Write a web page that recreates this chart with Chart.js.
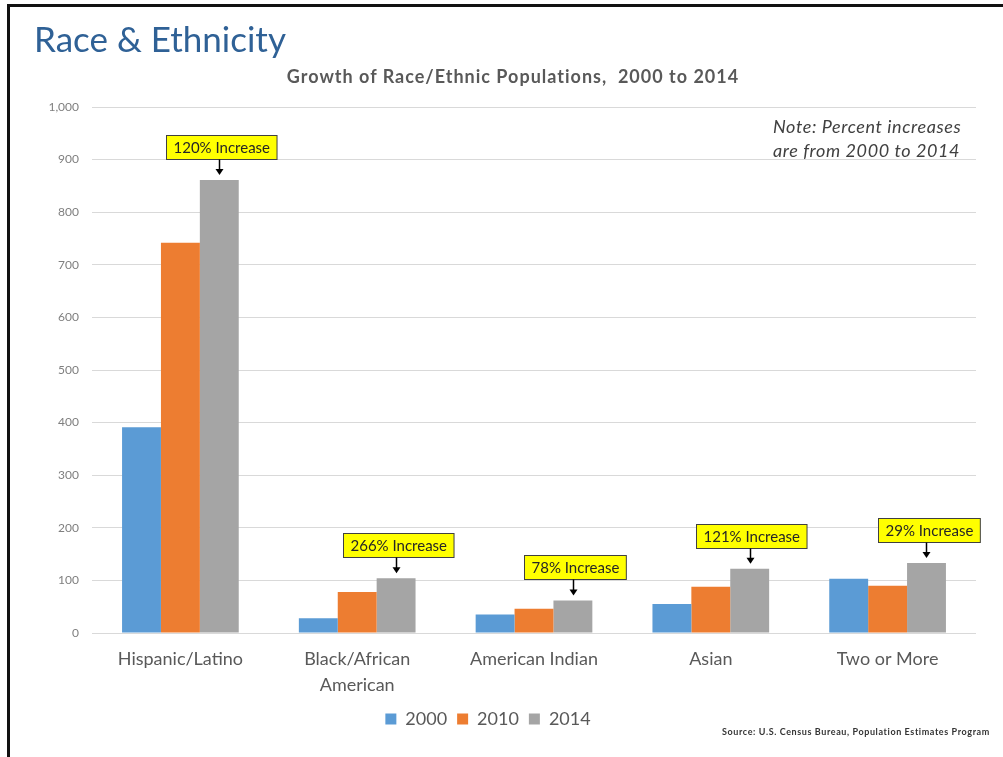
<!DOCTYPE html>
<html>
<head>
<meta charset="utf-8">
<script src="https://cdn.jsdelivr.net/npm/chart.js@4.4.1/dist/chart.umd.min.js"></script>
<style>
  html, body { margin: 0; padding: 0; background: #fff; }
  #wrap { position: relative; width: 1003px; height: 757px; overflow: hidden; font-family: Lato, "Open Sans", sans-serif; }
  #frame { position: absolute; left: 7px; top: 4px; right: 0; bottom: 0; border-top: 3px solid #111; border-left: 3px solid #111; }
  #chart { position: absolute; left: 0; top: 0; }
  .txt { position: absolute; white-space: nowrap; }
  #title { left: 34px; top: 17px; font-size: 35px; color: #2f6196; }
  #subtitle { left: 0; width: 1026px; text-align: center; top: 65px; font-size: 18px; font-weight: bold; color: #595959; letter-spacing: 1px; }
  #note { left: 773px; top: 114px; font-size: 18px; font-style: italic; color: #404040; line-height: 24px; letter-spacing: 0.6px; }
  #source { left: 722px; top: 726px; font-size: 9px; font-weight: bold; color: #333; letter-spacing: 0.6px; }
</style>
</head>
<body>
<div id="wrap">
  <canvas id="chart" width="1003" height="757"></canvas>
  <div id="frame"></div>
  <div class="txt" id="title">Race &amp; Ethnicity</div>
  <div class="txt" id="subtitle">Growth of Race/Ethnic Populations,&nbsp; 2000 to 2014</div>
  <div class="txt" id="note">Note: Percent increases<br>are from 2000 to 2014</div>
  <div class="txt" id="source">Source: U.S. Census Bureau, Population Estimates Program</div>
</div>
<script>
// Categories and values (thousands)
const categories = ['Hispanic/Latino', ['Black/African', 'American'], 'American Indian', 'Asian', 'Two or More'];
const years = ['2000', '2010', '2014'];
const values2000 = [391, 28, 35, 55, 103];
const values2010 = [742, 78, 46, 88, 90];
const values2014 = [861, 104, 62, 122, 133];
const increasePct = [120, 266, 78, 121, 29];
const yTicks = [0, 100, 200, 300, 400, 500, 600, 700, 800, 900, 1000];

const colors = ['#5b9bd5', '#ed7d31', '#a5a5a5'];
const labelFont = 'Lato, "Open Sans", sans-serif';

// Yellow callout boxes with an arrow down to the 2014 bar
const calloutPlugin = {
    id: 'callouts',
    afterDatasetsDraw(chart) {
        const ctx = chart.ctx;
        const meta = chart.getDatasetMeta(2);
        ctx.save();
        ctx.font = '15px ' + labelFont;
        meta.data.forEach((bar, i) => {
            const text = increasePct[i] + '% Increase';
            const w = ctx.measureText(text).width + 14;
            const h = 24;
            const arrowEnd = bar.y - 5;
            const boxBottom = bar.y - 21;
            const left = Math.round(bar.x - w / 2 + 2) + 0.5;
            const top = Math.round(boxBottom - h) + 0.5;

            ctx.fillStyle = '#ffff00';
            ctx.fillRect(left, top, w, h);
            ctx.strokeStyle = '#404040';
            ctx.lineWidth = 1;
            ctx.strokeRect(left, top, w, h);

            ctx.fillStyle = '#262626';
            ctx.textAlign = 'center';
            ctx.textBaseline = 'middle';
            ctx.fillText(text, left + w / 2, top + h / 2 + 1);

            // arrow
            const ax = Math.round(bar.x) + 0.5;
            ctx.strokeStyle = '#000';
            ctx.lineWidth = 1.5;
            ctx.beginPath();
            ctx.moveTo(ax, top + h);
            ctx.lineTo(ax, arrowEnd - 5);
            ctx.stroke();
            ctx.fillStyle = '#000';
            ctx.beginPath();
            ctx.moveTo(ax - 4, arrowEnd - 6);
            ctx.lineTo(ax + 4, arrowEnd - 6);
            ctx.lineTo(ax, arrowEnd);
            ctx.closePath();
            ctx.fill();
        });
        ctx.restore();
    }
};

const chart = new Chart(document.getElementById('chart'), {
    type: 'bar',
    data: {
        labels: categories,
        datasets: [
            { label: years[0], data: values2000, backgroundColor: colors[0] },
            { label: years[1], data: values2010, backgroundColor: colors[1] },
            { label: years[2], data: values2014, backgroundColor: colors[2] }
        ]
    },
    options: {
        responsive: false,
        animation: false,
        layout: { padding: { left: 0, right: 27, top: 107, bottom: 19 } },
        datasets: { bar: { categoryPercentage: 0.66, barPercentage: 1.0 } },
        plugins: {
            legend: {
                position: 'bottom',
                labels: {
                    boxWidth: 11,
                    boxHeight: 11,
                    padding: 10,
                    color: '#595959',
                    font: { family: labelFont, size: 18 }
                }
            },
            tooltip: { enabled: false }
        },
        scales: {
            x: {
                afterFit: s => { s.height = 67; },
                grid: { display: false },
                border: { display: false },
                ticks: {
                    color: '#595959',
                    font: { family: labelFont, size: 18, lineHeight: 1.4 },
                    padding: 6,
                    maxRotation: 0
                }
            },
            y: {
                min: 0,
                max: 1000,
                afterFit: s => { s.width = 92; },
                afterBuildTicks: s => { s.ticks = yTicks.map(v => ({ value: v })); },
                grid: { color: '#d9d9d9', drawTicks: false },
                border: { display: false },
                ticks: {
                    color: '#7f7f7f',
                    padding: 13,
                    font: { family: labelFont, size: 12 },
                    callback: v => v.toLocaleString('en-US')
                }
            }
        }
    },
    plugins: [calloutPlugin]
});
</script>
</body>
</html>
